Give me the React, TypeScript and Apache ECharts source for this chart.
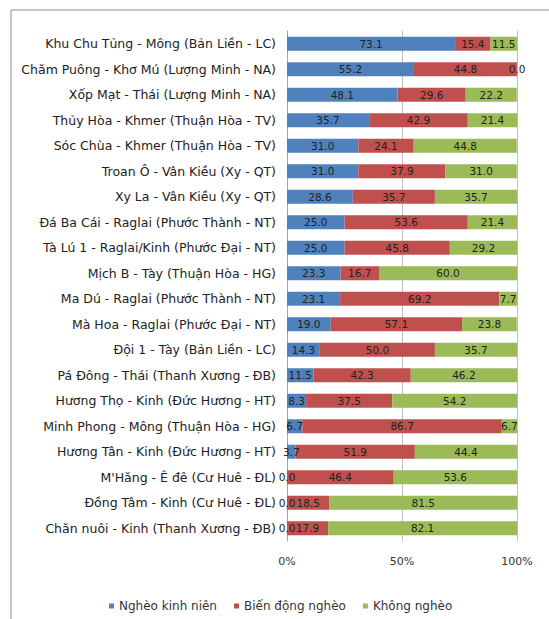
import React, { useEffect, useRef } from "react";
import * as echarts from "echarts";

const categories = [
  "Khu Chu Tủng - Mông (Bản Liền - LC)",
  "Chăm Puông - Khơ Mú (Lượng Minh - NA)",
  "Xốp Mạt - Thái (Lượng Minh - NA)",
  "Thủy Hòa - Khmer (Thuận Hòa - TV)",
  "Sóc Chùa - Khmer (Thuận Hòa - TV)",
  "Troan Ô - Vân Kiều (Xy - QT)",
  "Xy La - Vân Kiều (Xy - QT)",
  "Đá Ba Cái - Raglai (Phước Thành - NT)",
  "Tà Lú 1 - Raglai/Kinh (Phước Đại - NT)",
  "Mịch B - Tày (Thuận Hòa - HG)",
  "Ma Dú - Raglai (Phước Thành - NT)",
  "Mà Hoa - Raglai (Phước Đại - NT)",
  "Đội 1 - Tày (Bản Liền - LC)",
  "Pá Đông - Thái (Thanh Xương - ĐB)",
  "Hương Thọ - Kinh (Đức Hương - HT)",
  "Minh Phong - Mông (Thuận Hòa - HG)",
  "Hương Tân - Kinh (Đức Hương - HT)",
  "M'Hăng - Ê đê (Cư Huê - ĐL)",
  "Đồng Tâm - Kinh (Cư Huê - ĐL)",
  "Chăn nuôi - Kinh (Thanh Xương - ĐB)",
];

const ngheoKinhNien = [73.1, 55.2, 48.1, 35.7, 31.0, 31.0, 28.6, 25.0, 25.0, 23.3, 23.1, 19.0, 14.3, 11.5, 8.3, 6.7, 3.7, 0, 0, 0];
const bienDongNgheo = [15.4, 44.8, 29.6, 42.9, 24.1, 37.9, 35.7, 53.6, 45.8, 16.7, 69.2, 57.1, 50.0, 42.3, 37.5, 86.7, 51.9, 46.4, 18.5, 17.9];
const khongNgheo = [11.5, 0, 22.2, 21.4, 44.8, 31.0, 35.7, 21.4, 29.2, 60.0, 7.7, 23.8, 35.7, 46.2, 54.2, 6.7, 44.4, 53.6, 81.5, 82.1];

const seriesNames = ["Nghèo kinh niên", "Biến động nghèo", "Không nghèo"];
const xTicks = [0, 50, 100];

const WIDE = "DejaVu Sans, Verdana, sans-serif";

export default function App() {
  const ref = useRef<HTMLDivElement>(null);
  useEffect(() => {
    if (!ref.current) return;
    const chart = echarts.init(ref.current, null, { renderer: "svg" });
    const colors = ["#4f81bd", "#c0504d", "#9bbb59"];
    const datas = [ngheoKinhNien, bienDongNgheo, khongNgheo];
    chart.setOption({
      animation: false,
      backgroundColor: "#ffffff",
      textStyle: { fontFamily: WIDE },
      grid: { left: 287, right: 32, top: 31, bottom: 78, containLabel: false },
      legend: {
        top: 595,
        left: 104,
        itemWidth: 5,
        itemHeight: 5,
        itemGap: 17,
        icon: "rect",
        textStyle: { fontSize: 12, color: "#333", fontFamily: WIDE },
        data: seriesNames,
      },
      xAxis: {
        type: "value",
        min: xTicks[0],
        max: xTicks[xTicks.length - 1],
        interval: 50,
        axisLine: { show: false },
        axisTick: { show: false },
        axisLabel: { formatter: "{value}%", fontSize: 11, color: "#333", margin: 15, fontFamily: WIDE },
        splitLine: { show: true, lineStyle: { color: "#bfbfbf", width: 1 } },
      },
      yAxis: {
        type: "category",
        inverse: true,
        data: categories,
        axisLine: { show: true, lineStyle: { color: "#a6a6a6" } },
        axisTick: { show: false },
        axisLabel: { fontSize: 12.5, color: "#222", margin: 11, fontFamily: WIDE },
      },
      series: datas.map((d, i) => ({
        name: seriesNames[i],
        type: "bar",
        stack: "total",
        barCategoryGap: "45%",
        data: d,
        itemStyle: { color: colors[i] },
        label: {
          show: true,
          position: "inside",
          fontSize: 10.5,
          fontFamily: WIDE,
          color: "#222",
          formatter: (p: any) => Number(p.value).toFixed(1),
        },
      })),
      graphic: [
        {
          type: "rect",
          shape: { x: 11, y: 10, width: 700, height: 800 },
          style: { fill: "none", stroke: "#8c8c8c", lineWidth: 1 },
          silent: true,
        },
      ],
    });
    return () => chart.dispose();
  }, []);
  return (
    <div
      ref={ref}
      style={{ position: "fixed", left: 0, top: 0, width: 549, height: 619 }}
    />
  );
}
